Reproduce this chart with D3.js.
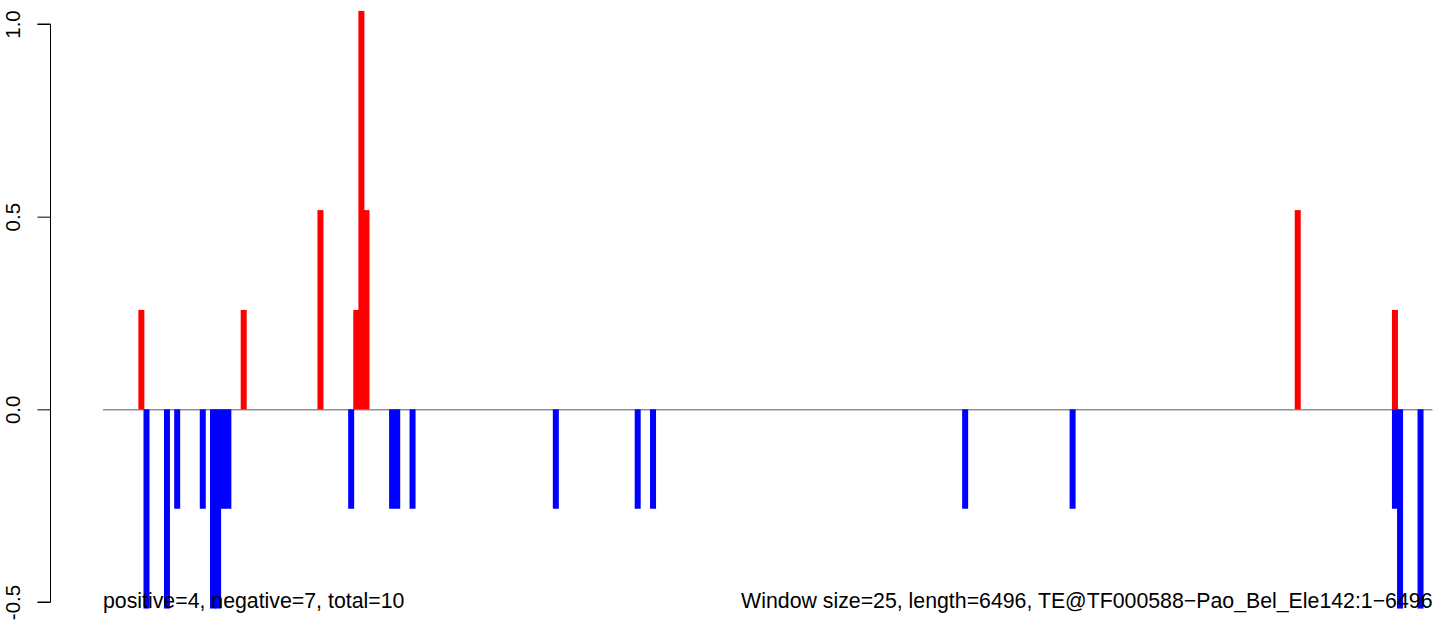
<!DOCTYPE html>
<html>
<head>
<meta charset="utf-8">
<script src="https://cdn.jsdelivr.net/npm/d3@7"></script>
<style>
  html, body { margin: 0; padding: 0; background: #fff; }
  svg { display: block; font-family: "Liberation Sans", Arial, Helvetica, sans-serif; }
</style>
</head>
<body>
<svg id="chart" width="1433" height="620"></svg>
<script>
// ---- data ----
const windowSize = 25;
const seqLength = 6496;
// positive windows (0-based window index) and their scores
const posWindows = [7, 27, 42, 49, 50, 51, 233, 252];
const posValues  = [0.258, 0.258, 0.517, 0.258, 1.034, 0.517, 0.517, 0.258];
// negative windows and their scores
const negWindows = [8, 12, 14, 19, 21, 22, 23, 24, 48, 56, 57, 60, 88, 104, 107, 168, 189, 252, 253, 257];
const negValues  = [-0.517, -0.517, -0.258, -0.258, -0.517, -0.517, -0.258, -0.258, -0.258, -0.258, -0.258, -0.258, -0.258, -0.258, -0.258, -0.258, -0.258, -0.258, -0.517, -0.517];
const yTicks = [-0.5, 0.0, 0.5, 1.0];
const yTickLabels = ["-0.5", "0.0", "0.5", "1.0"];
const leftNote = "positive=4, negative=7, total=10";
const rightNote = "Window size=25, length=6496, TE@TF000588\u2212Pao_Bel_Ele142:1\u22126496";

// ---- layout ----
const svg = d3.select("#chart");
const plotLeft = 103, plotRight = 1432.5;
const x = d3.scaleLinear().domain([0, seqLength]).range([plotLeft, plotRight]);
const y = d3.scaleLinear().domain([-0.5, 1.0]).range([602, 24]);
const barW = 6;

const pos = posWindows.map((w, i) => ({w, v: posValues[i]}));
const neg = negWindows.map((w, i) => ({w, v: negValues[i]}));

// zero line
svg.append("line")
  .attr("x1", x(0)).attr("x2", x(seqLength))
  .attr("y1", y(0) + 0.5).attr("y2", y(0) + 0.5)
  .attr("stroke", "#5a5a5a").attr("stroke-width", 1);

// bars
function drawBars(data, color) {
  svg.append("g").selectAll("rect").data(data).enter().append("rect")
    .attr("x", d => x((d.w + 0.5) * windowSize) - barW / 2)
    .attr("width", barW)
    .attr("y", d => Math.min(y(d.v), y(0)))
    .attr("height", d => Math.abs(y(d.v) - y(0)))
    .attr("fill", color);
}
drawBars(pos, "#ff0000");
drawBars(neg, "#0000ff");

// y axis (R-style, rotated labels)
const axisX = 50.5;
const yAxis = d3.axisLeft(y).tickValues(yTicks).tickSize(13).tickFormat((d, i) => yTickLabels[i]);
const gAxis = svg.append("g").attr("transform", `translate(${axisX},0)`).call(yAxis);
gAxis.select(".domain").attr("d", `M-13,${y(1.0)}H0V${y(-0.5)}H-13`).attr("stroke", "#000").attr("fill", "none");
gAxis.selectAll(".tick line").attr("stroke", "#000");
gAxis.selectAll(".tick text")
  .attr("x", null).attr("dy", null)
  .attr("text-anchor", "middle")
  .attr("font-size", 20.5)
  .attr("fill", "#000")
  .attr("font-family", "Liberation Sans, Arial, sans-serif")
  .attr("transform", `translate(${20 - axisX},0) rotate(-90)`);

// notes
svg.append("text")
  .attr("x", plotLeft).attr("y", 608)
  .attr("font-size", 21.3).attr("fill", "#000")
  .text(leftNote);
svg.append("text")
  .attr("x", plotRight).attr("y", 608)
  .attr("text-anchor", "end")
  .attr("font-size", 21.3).attr("fill", "#000")
  .text(rightNote);
</script>
</body>
</html>
